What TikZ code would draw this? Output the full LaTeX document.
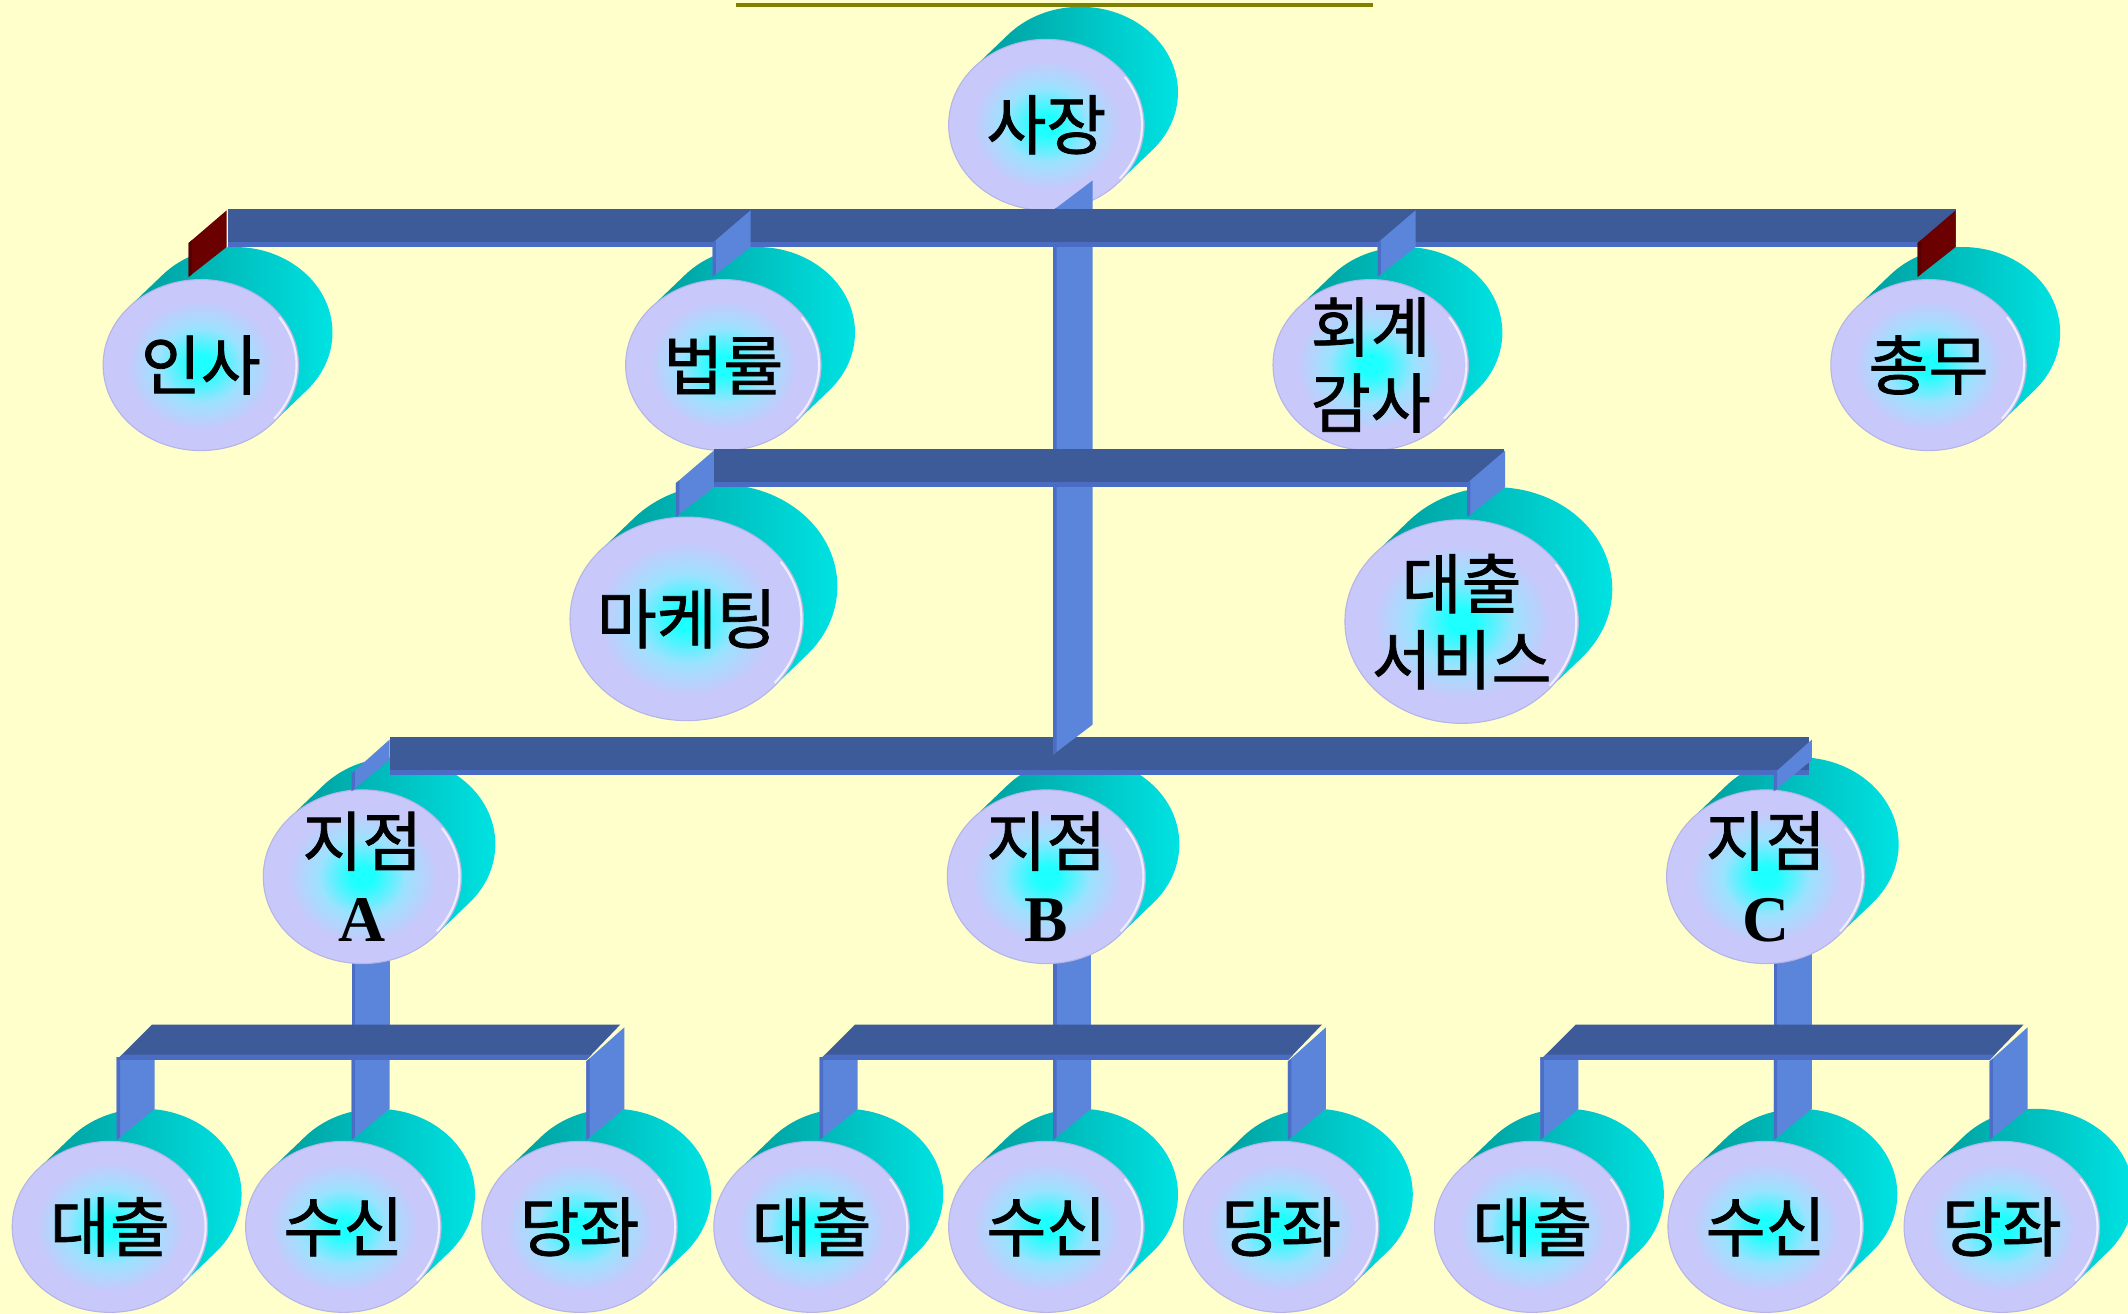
\documentclass[tikz,border=0pt]{standalone}
\usepackage{fontspec}
\newfontfamily\kfont{Noto Sans CJK KR}[FakeBold=1.2]
\newfontfamily\lsfont{Liberation Serif}
\definecolor{bgY}{HTML}{FFFFCC}
\definecolor{oliveL}{HTML}{808000}
\definecolor{barDark}{HTML}{3D5A99}
\definecolor{barStrip}{HTML}{4A6CC2}
\definecolor{postBlue}{HTML}{5B84DB}
\definecolor{postEdge}{HTML}{4C6DC6}
\definecolor{maroonS}{HTML}{6B0000}
\definecolor{maroonE}{HTML}{560000}
\definecolor{tealD}{HTML}{009C9C}
\definecolor{tealB}{HTML}{00E6E6}
\definecolor{cyC}{HTML}{1EFFFF}
\definecolor{lbC}{HTML}{9CE2FF}
\definecolor{lavC}{HTML}{C8C8FA}
\definecolor{lavE}{HTML}{B4B4E6}
\definecolor{rimW}{HTML}{EEEEFF}
\pgfdeclareradialshading{ndshade}{\pgfpoint{0bp}{0bp}}{color(0bp)=(cyC); color(3bp)=(cyC); color(11bp)=(lbC); color(19bp)=(lavC); color(50bp)=(lavC)}

% node: name, x, y, rx, ry, text
\newcommand\cylnode[6]{%
  \pgfmathsetmacro\cyA{atan2(#5*25,#4*24)}%
  \pgfmathsetmacro\cyPx{#4*cos(\cyA)}%
  \pgfmathsetmacro\cyPy{#5*sin(\cyA)}%
  \shade[left color=tealD, right color=tealB] ({#2+\cyPx},{#3+\cyPy}) -- ({#2+\cyPx+25},{#3+\cyPy-24}) arc[start angle=\cyA, end angle={\cyA-180}, x radius=#4, y radius=#5] -- ({#2-\cyPx},{#3-\cyPy}) -- cycle;
  \shadedraw[shading=ndshade, draw=lavE, line width=0.8] (#2,#3) ellipse [x radius=#4, y radius=#5];
  \draw[rimW, line width=1.6] ({#2+(#4-1.5)*cos(-35)},{#3+(#5-1.5)*sin(-35)}) arc[start angle=-35, end angle=40, x radius=#4-1.5, y radius=#5-1.5];
  \node[txt] (#1) at (#2,#3) {#6};
}
% stub on a horizontal bar: left x, bar top y, fill colour, edge colour
\newcommand\stubp[4]{%
  \fill[#3] (#1,#2+25) -- (#1+28,#2+1) -- (#1+28,#2+28) -- (#1,#2+50) -- cycle;
  \fill[#4] (#1,#2+25) -- (#1+2.5,#2+23) -- (#1+2.5,#2+48) -- (#1,#2+50) -- cycle;
}
\newcommand\shortstub[2]{%
  \fill[postBlue] (#1,#2+27) -- (#1+28,#2+2) -- (#1+28,#2+17) -- (#1,#2+40) -- cycle;
  \fill[postEdge] (#1,#2+27) -- (#1+2.5,#2+25) -- (#1+2.5,#2+38) -- (#1,#2+40) -- cycle;
}
% lower group: a (left post x), b (middle post x), c (right post x)
\newcommand\upperpost[1]{%
  \fill[postBlue] (#1,690) rectangle (#1+28,758);
  \fill[postEdge] (#1,690) rectangle (#1+2.5,758);
}
\newcommand\lowergroup[3]{%
  \fill[postBlue] (#2,779) -- (#2+28,779) -- (#2+28,817) -- (#2,840) -- cycle;
  \fill[postEdge] (#2,779) -- (#2+2.5,779) -- (#2+2.5,838) -- (#2,840) -- cycle;
  \fill[postBlue] (#1,779) -- (#1+28,779) -- (#1+28,817) -- (#1,840) -- cycle;
  \fill[postEdge] (#1,779) -- (#1+2.5,779) -- (#1+2.5,838) -- (#1,840) -- cycle;
  \fill[barDark] (#1+26,755) -- (#3+25,755) -- (#3,781) -- (#1,781) -- cycle;
  \fill[barStrip] (#1+4,777) -- (#3+4,777) -- (#3,781) -- (#1,781) -- cycle;
  \fill[postBlue] (#3,782) -- (#3+28,757) -- (#3+28,817) -- (#3,840) -- cycle;
  \fill[postEdge] (#3,782) -- (#3+2.5,780) -- (#3+2.5,838) -- (#3,840) -- cycle;
}

\begin{document}
\begin{tikzpicture}[x=1pt,y=-1pt,
  txt/.style={font=\kfont\fontsize{48}{56}\selectfont, align=center, inner sep=0pt, text=black}]
\useasboundingbox (0,0) rectangle (1568,968);
\clip (0,0) rectangle (1568,968);
\fill[bgY] (0,0) rectangle (1568,968);
% cut-off title underline
\draw[oliveL, line width=3] (542,3.5) -- (1012,3.5);

% posts from branches down to their bars (behind the branch discs)
\upperpost{259}
\upperpost{776}
\upperpost{1307}

% discs
\cylnode{ceo}{771}{92}{72}{63}{사장}
\cylnode{hr}{148}{269}{72}{63}{인사}
\cylnode{law}{533}{269}{72}{63}{법률}
\cylnode{audit}{1010}{269}{72}{63}{회계\\감사}
\cylnode{gen}{1421}{269}{72}{63}{총무}
\cylnode{mkt}{506}{456}{86}{75}{마케팅}
\cylnode{lsvc}{1077}{458}{86}{75}{대출\\서비스}
\cylnode{brA}{267}{646}{73}{64}{지점\\{\lsfont\bfseries A}}
\cylnode{brB}{771}{646}{73}{64}{지점\\{\lsfont\bfseries B}}
\cylnode{brC}{1301}{646}{73}{64}{지점\\{\lsfont\bfseries C}}
\cylnode{a1}{81}{904}{72}{63}{대출}
\cylnode{a2}{253}{904}{72}{63}{수신}
\cylnode{a3}{427}{904}{72}{63}{당좌}
\cylnode{b1}{598}{904}{72}{63}{대출}
\cylnode{b2}{771}{904}{72}{63}{수신}
\cylnode{b3}{944}{904}{72}{63}{당좌}
\cylnode{c1}{1129}{904}{72}{63}{대출}
\cylnode{c2}{1301}{904}{72}{63}{수신}
\cylnode{c3}{1475}{904}{72}{63}{당좌}

% branch bar (level 3)
\fill[barDark] (287,543) rectangle (1333,567);
\fill[barStrip] (287,567) rectangle (1333,571);
% central column from the president
\fill[postBlue] (776,155) -- (805,133) -- (805,534) -- (776,556) -- cycle;
\fill[postEdge] (776,155) -- (778.5,153) -- (778.5,554) -- (776,556) -- cycle;
% level 1 bar
\fill[barDark] (168,154) rectangle (1441,178);
\fill[barStrip] (168,178) rectangle (1441,182);
% level 2 bar
\fill[barDark] (526,331) rectangle (1108,355);
\fill[barStrip] (526,355) rectangle (1108,359);

% stubs
\stubp{139}{154}{maroonS}{maroonE}
\stubp{525}{154}{postBlue}{postEdge}
\stubp{1015}{154}{postBlue}{postEdge}
\stubp{1413}{154}{maroonS}{maroonE}
\stubp{498}{331}{postBlue}{postEdge}
\stubp{1081}{331}{postBlue}{postEdge}
\shortstub{259}{543}
\shortstub{1307}{543}

% lower groups
\lowergroup{86}{259}{432}
\lowergroup{604}{776}{949}
\lowergroup{1135}{1307}{1466}
\end{tikzpicture}
\end{document}
